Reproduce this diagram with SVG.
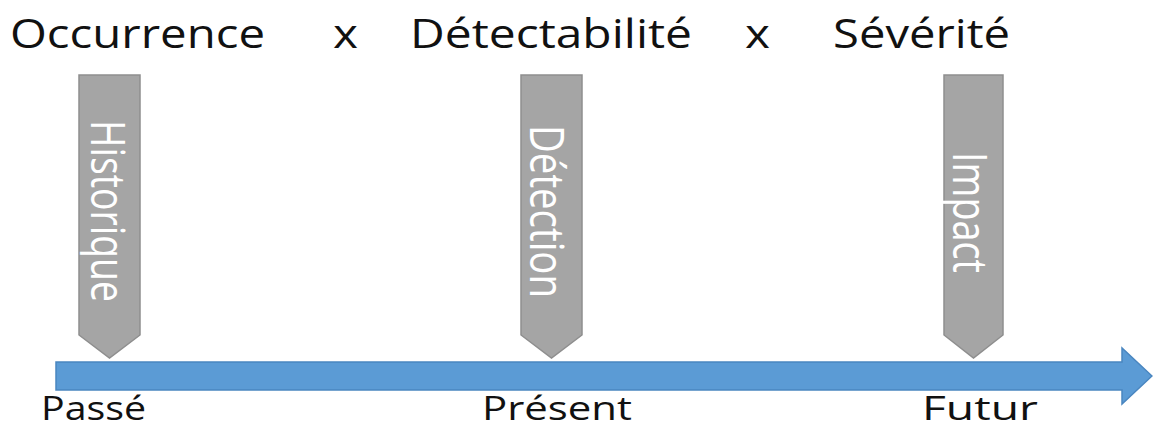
<svg xmlns="http://www.w3.org/2000/svg" width="1153" height="430" viewBox="0 0 1153 430">
  <style>
    .lbl { font-family: "Open Sans", "Liberation Sans", sans-serif; fill: #111111; }
    .top { font-size: 40px; }
    .bot { font-size: 32px; }
    .tag { fill: #a5a5a5; stroke: #8e8e8e; stroke-width: 1.5; }
    .vt { font-family: "Open Sans", "Liberation Sans", sans-serif; font-size: 47px; fill: #ffffff; }
    .axis { fill: #5b9bd5; stroke: #4a86c0; stroke-width: 1.5; }
  </style>
  <rect width="1153" height="430" fill="#ffffff"/>

  <g id="title">
    <text class="lbl top" x="10" y="48" textLength="255" lengthAdjust="spacingAndGlyphs">Occurrence</text>
    <text class="lbl top" x="333" y="48" textLength="25" lengthAdjust="spacingAndGlyphs">x</text>
    <text class="lbl top" x="410" y="48" textLength="282" lengthAdjust="spacingAndGlyphs">Détectabilité</text>
    <text class="lbl top" x="745" y="48" textLength="25" lengthAdjust="spacingAndGlyphs">x</text>
    <text class="lbl top" x="833" y="48" textLength="177" lengthAdjust="spacingAndGlyphs">Sévérité</text>
  </g>

  <g id="connectors">
    <path class="axis" d="M56,362 L1122,362 L1122,348 L1152,376 L1122,404 L1122,390 L56,390 Z"/>
  </g>

  <g id="historique">
    <path class="tag" d="M79,75 L140,75 L140,335 L109.5,358 L79,335 Z"/>
    <text class="vt" transform="translate(91,120) rotate(90)" textLength="182" lengthAdjust="spacingAndGlyphs">Historique</text>
  </g>

  <g id="detection">
    <path class="tag" d="M521,75 L582,75 L582,335 L551.5,358 L521,335 Z"/>
    <text class="vt" transform="translate(530,125) rotate(90)" textLength="173" lengthAdjust="spacingAndGlyphs">Détection</text>
  </g>

  <g id="impact">
    <path class="tag" d="M944,75 L1003,75 L1003,335 L973.5,358 L944,335 Z"/>
    <text class="vt" transform="translate(953,152) rotate(90)" textLength="121" lengthAdjust="spacingAndGlyphs">Impact</text>
  </g>

  <g id="timeline-labels">
    <text class="lbl bot" x="41" y="420" textLength="105" lengthAdjust="spacingAndGlyphs">Passé</text>
    <text class="lbl bot" x="482" y="420" textLength="150" lengthAdjust="spacingAndGlyphs">Présent</text>
    <text class="lbl bot" x="922" y="420" textLength="116" lengthAdjust="spacingAndGlyphs">Futur</text>
  </g>
</svg>
